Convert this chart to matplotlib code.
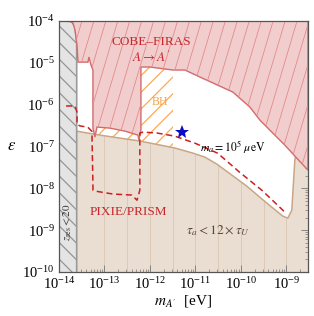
import numpy as np
import matplotlib
matplotlib.use("Agg")
import matplotlib.pyplot as plt
from matplotlib import ticker
from matplotlib.patches import Polygon
from matplotlib.lines import Line2D

plt.rcParams["font.family"] = "serif"
plt.rcParams["font.serif"] = ["Liberation Serif", "DejaVu Serif"]
plt.rcParams["mathtext.fontset"] = "stix"
plt.rcParams["hatch.linewidth"] = 0.9

# ---- data (m_A' in eV, epsilon) ----
# COBE-FIRAS excluded region: lower edge, left -> right (closed along eps = 1e-4)
firas_m = [1.05e-14, 1.75e-14, 2.03e-14, 2.25e-14, 2.49e-14, 2.62e-14, 4.34e-14,
           4.56e-14, 5.05e-14, 5.58e-14, 5.58e-14, 6.18e-14, 6.84e-14, 1.32e-13,
           2.82e-13, 5.45e-13, 5.73e-13, 6.34e-13, 6.34e-13, 1.0e-12, 3.2e-12,
           5.87e-12, 1.26e-11, 6.67e-11, 1.58e-10, 2.62e-10, 5.05e-10, 9.27e-10,
           1.62e-9, 3.0e-9, 3.0e-9]
firas_eps = [1e-4, 9.7e-5, 8.96e-5, 6.09e-5, 2.67e-5, 1.04e-5, 1.04e-5,
             1.38e-5, 8.85e-6, 6.73e-6, 2.75e-7, 1.68e-7, 2.91e-7, 2.75e-7,
             2.33e-7, 1.87e-7, 1.42e-7, 2.47e-7, 7.94e-6, 7.94e-6, 6.73e-6,
             6.73e-6, 4.57e-6, 2.0e-6, 8.77e-7, 4.28e-7, 2.09e-7, 1.08e-7,
             5.57e-8, 2.72e-8, 1e-4]

# tau_a < 12 tau_U region: upper edge, left -> right
tan_m = [2.45e-14, 7.96e-14, 6.03e-13, 3.54e-12, 8.8e-12, 1.62e-11, 2.97e-11,
         6.34e-11, 1.35e-10, 3.73e-10, 8.4e-10, 1.08e-9, 1.32e-9, 1.39e-9,
         1.54e-9, 1.7e-9, 3.0e-9]
tan_eps = [2.33e-7, 1.87e-7, 1.35e-7, 9.2e-8, 6.95e-8, 5.57e-8, 3.79e-8,
           2.07e-8, 1.13e-8, 4.43e-9, 2.16e-9, 1.94e-9, 3.0e-9, 7.67e-9,
           4.73e-8, 8.2e-8, 1.42e-7]

# z_res < 20 region (right edge)
zres_m = [1e-14, 2.45e-14, 2.45e-14, 2.25e-14, 1.9e-14, 1e-14]
zres_eps = [1e-10, 1e-10, 3e-5, 7e-5, 1e-4, 1e-4]

# black hole superradiance band
bh_m = [6.2e-14, 3.2e-12]
bh_eps_top = 7.9e-6

# PIXIE/PRISM projected sensitivity
pixie_m = [1.43e-14, 2.25e-14, 2.49e-14, 2.49e-14, 2.9e-14, 4.3e-14, 5.3e-14,
           5.6e-14, 6.2e-14, 1.54e-13, 4.0e-13, 5.2e-13, 6.0e-13, 6.0e-13,
           7.0e-13, 1.43e-12, 3.5e-12, 9.8e-12, 3.1e-11, 9.5e-11, 2.9e-10, 9.3e-10]
pixie_eps = [9.3e-7, 9.3e-7, 6.6e-7, 3.4e-7, 3.1e-7, 2.9e-7, 2.3e-7,
             9.0e-9, 8.6e-9, 7.3e-9, 6.9e-9, 5.2e-9, 9.0e-9, 2.1e-7,
             2.2e-7, 2.1e-7, 1.77e-7, 1.2e-7, 6.9e-8, 2.4e-8, 9.0e-9, 2.7e-9]

# benchmark point (m_a = 10^5 mu eV)
star_m, star_eps = 5.05e-12, 2.2e-7

xlim = (1e-14, 3e-9)
ylim = (1e-10, 1e-4)

# ---- figure ----
fig = plt.figure(figsize=(3.14, 3.16), dpi=100)
ax = fig.add_axes([59 / 314, 44 / 316, 249 / 314, 251 / 316])
ax.set_xscale("log")
ax.set_yscale("log")
ax.set_xlim(*xlim)
ax.set_ylim(*ylim)

# tan region
tan_poly = list(zip(tan_m, tan_eps)) + [(xlim[1], ylim[0]), (tan_m[0], ylim[0])]
ax.add_patch(Polygon(tan_poly, closed=True, facecolor="#eaded3", edgecolor="none", zorder=1))
for lx in 10.0 ** np.arange(-13, -8.9, 0.5):
    top = 10 ** np.interp(np.log10(lx), np.log10(tan_m), np.log10(tan_eps))
    ax.vlines(lx, ylim[0], top, colors="#dccab8", lw=0.7, zorder=1.2)
ax.plot(tan_m, tan_eps, color="#c9a785", lw=1.1, zorder=1.5)

# BH band
bh_xy = [(bh_m[0], ylim[0]), (bh_m[1], ylim[0]), (bh_m[1], bh_eps_top), (bh_m[0], bh_eps_top)]
ax.add_patch(Polygon(bh_xy, closed=True, facecolor="none", edgecolor="#ffa850",
                     lw=0, hatch="//", zorder=0.8))

# z_res region
zres_xy = list(zip(zres_m, zres_eps))
ax.add_patch(Polygon(zres_xy, closed=True, facecolor="#e4e4e4", edgecolor="none", zorder=2))
ax.add_patch(Polygon(zres_xy, closed=True, facecolor="none", edgecolor="#959595",
                     lw=0, hatch="\\\\", zorder=2.1))
ax.plot(zres_m[1:5], zres_eps[1:5], color="#9a9a9a", lw=1.2, zorder=2.2)

# COBE-FIRAS region
firas_xy = list(zip(firas_m, firas_eps))
red = Polygon(firas_xy, closed=True, facecolor="#f2cdcd", edgecolor="#d36b6b",
              lw=1.0, zorder=3)
ax.add_patch(red)
for x0 in np.arange(-0.4, 1.05, 0.048):
    hl = Line2D([x0, x0 + 0.3], [0, 1], transform=ax.transAxes,
                color="#e08c8c", lw=0.6, zorder=3.1)
    hl.set_clip_path(red)
    ax.add_line(hl)

# PIXIE/PRISM dashed
ax.plot(pixie_m, pixie_eps, color="#cc1f1f", lw=1.1, ls=(0, (4, 2.4)), zorder=4)

# benchmark star
ax.plot(star_m, star_eps, marker="*", color="#0b0bc4", ms=10, mew=0, zorder=5)

# labels
red_txt = "#c8262a"
ax.text(1.05e-12, 3.15e-5, "COBE–FIRAS", color=red_txt, fontsize=9.5,
        ha="center", va="center", zorder=6)
ax.text(1.05e-12, 1.38e-5, r"$A \rightarrow A'$", color=red_txt, fontsize=9.5,
        ha="center", va="center", zorder=6)
ax.text(1.66e-12, 1.15e-6, "BH", color="#f3a24d", fontsize=8.5,
        ha="center", va="center", zorder=6)
ax.text(1.26e-11, 1.02e-7, r"$m_a = 10^5\ \mu{\rm eV}$", color="black", fontsize=8.5,
        ha="left", va="center", zorder=6)
ax.text(3.28e-13, 2.7e-9, "PIXIE/PRISM", color=red_txt, fontsize=9.5,
        ha="center", va="center", zorder=6)
ax.text(3.1e-11, 9.5e-10, r"$\tau_a < 12 \times \tau_U$", color="#5a4632", fontsize=9.5,
        ha="center", va="center", zorder=6)
ax.text(1.58e-14, 1.55e-9, r"$z_{\rm res} < 20$", color="#333333", fontsize=8,
        rotation=90, ha="center", va="center", zorder=6)

ax.set_xlabel(r"$m_{A'}$  [eV]", fontsize=11, labelpad=1)
ax.set_ylabel(r"$\epsilon$", fontsize=12, rotation=0, labelpad=8, va="center")

# ticks and frame
ax.xaxis.set_major_locator(ticker.LogLocator(base=10, numticks=20))
ax.yaxis.set_major_locator(ticker.LogLocator(base=10, numticks=20))
for a in (ax.xaxis, ax.yaxis):
    a.set_minor_locator(ticker.LogLocator(base=10, subs=np.arange(2, 10), numticks=100))
    a.set_minor_formatter(ticker.NullFormatter())
ax.tick_params(which="both", direction="in", top=True, right=True,
               color="#777777", labelsize=10.5)
ax.tick_params(which="major", length=5, width=0.6, pad=3)
ax.tick_params(which="minor", length=2.5, width=0.5)
for s in ax.spines.values():
    s.set_color("#555555")
    s.set_linewidth(0.9)
    s.set_zorder(7)

fig.savefig("out.png", dpi=100)
